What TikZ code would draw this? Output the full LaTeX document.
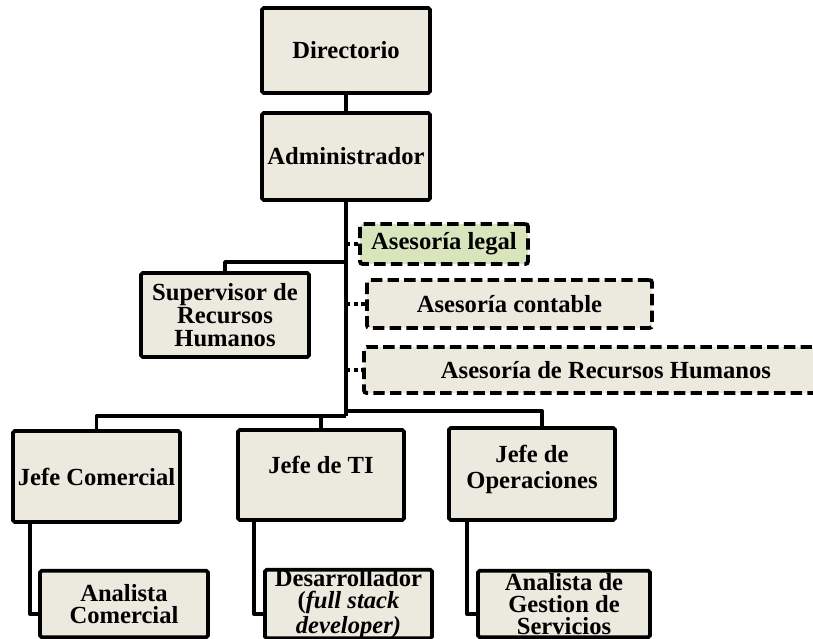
\documentclass[tikz,border=0pt]{standalone}
\usepackage{fontspec}
\setmainfont{Liberation Serif}
\usetikzlibrary{positioning}

\definecolor{fondo}{RGB}{236,233,223}
\definecolor{verde}{RGB}{215,228,188}

\tikzset{
  caja/.style={draw=black,line width=2.2pt,fill=fondo,rounded corners=1pt,
    align=center,inner sep=1pt,font=\bfseries\fontsize{14}{13.2}\selectfont},
  cajabaja/.style={caja,inner ysep=0pt,minimum height=13.3mm,
    font=\bfseries\fontsize{14}{12.6}\selectfont},
  asesoria/.style={caja,dash pattern=on 6.5pt off 3pt,rounded corners=1.5pt},
  linea/.style={draw=black,line width=2.2pt,line join=round},
  punteada/.style={draw=black,line width=2.2pt,dash pattern=on 2.2pt off 2.2pt}
}

\begin{document}
\begin{tikzpicture}[x=0.2mm,y=-0.2mm]
\useasboundingbox (0,0) rectangle (813,639);

% direccion
\node[caja,minimum width=33.6mm,minimum height=17mm] (dir) at (346,50.5) {Directorio};
\node[caja,minimum width=33.6mm,minimum height=17.4mm] (adm) at (346,156.5) {Administrador};

% asesorias externas
\node[asesoria,fill=verde,minimum width=33.6mm,minimum height=8mm] (legal) at (444,244) {Asesoría legal};
\node[asesoria,minimum width=57mm,minimum height=9.6mm] (contable) at (509.5,304) {Asesoría contable};
\node[asesoria,minimum width=96.8mm,minimum height=9.2mm] (asrrhh) at (606,370) {Asesoría de Recursos Humanos};

\node[caja,minimum width=33.6mm,minimum height=16.8mm] (sup) at (225,315) {Supervisor de\\Recursos\\Humanos};

% jefaturas
\node[caja,minimum width=33.4mm,minimum height=18.2mm] (jcom) at (96.5,476.5) {Jefe Comercial};
\node[caja,minimum width=33.2mm,minimum height=18mm,text depth=4mm] (jti) at (321,475) {Jefe de TI};
\node[caja,minimum width=33.2mm,minimum height=18.4mm,text depth=3mm] (jop) at (532,474) {Jefe de\\[1.5pt]Operaciones};

% analistas
\node[cajabaja,minimum width=33.6mm] (acom) at (124,604) {Analista\\Comercial};
\node[cajabaja,minimum width=33.4mm] (dev) at (348.5,604) {Desarrollador\\(\textit{full stack}\\\textit{developer)}};
\node[cajabaja,minimum width=34.4mm] (ags) at (564,604) {Analista de\\Gestion de\\Servicios};

\coordinate (barra) at (346,416);
\coordinate (barrad) at (346,411);
\coordinate (rama) at (346,262);

\draw[linea] (dir) -- (adm);
\draw[linea] (adm) -- (barra);
\draw[linea] (rama) -| (sup);
\draw[linea] (barra) -| (jcom);
\draw[linea] (barra) -| (jti);
\draw[linea] (barrad) -| ([xshift=2mm]jop.north);

\draw[punteada] (legal.west -| adm.south) -- (legal.west);
\draw[punteada] (contable.west -| adm.south) -- (contable.west);
\draw[punteada] (asrrhh.west -| adm.south) -- (asrrhh.west);

\draw[linea] ([xshift=3.8mm]jcom.south west) |- ([yshift=-2mm]acom.west);
\draw[linea] ([xshift=3.6mm]jti.south west) |- ([yshift=-2mm]dev.west);
\draw[linea] ([xshift=4mm]jop.south west) |- ([yshift=-2mm]ags.west);

\end{tikzpicture}
\end{document}
